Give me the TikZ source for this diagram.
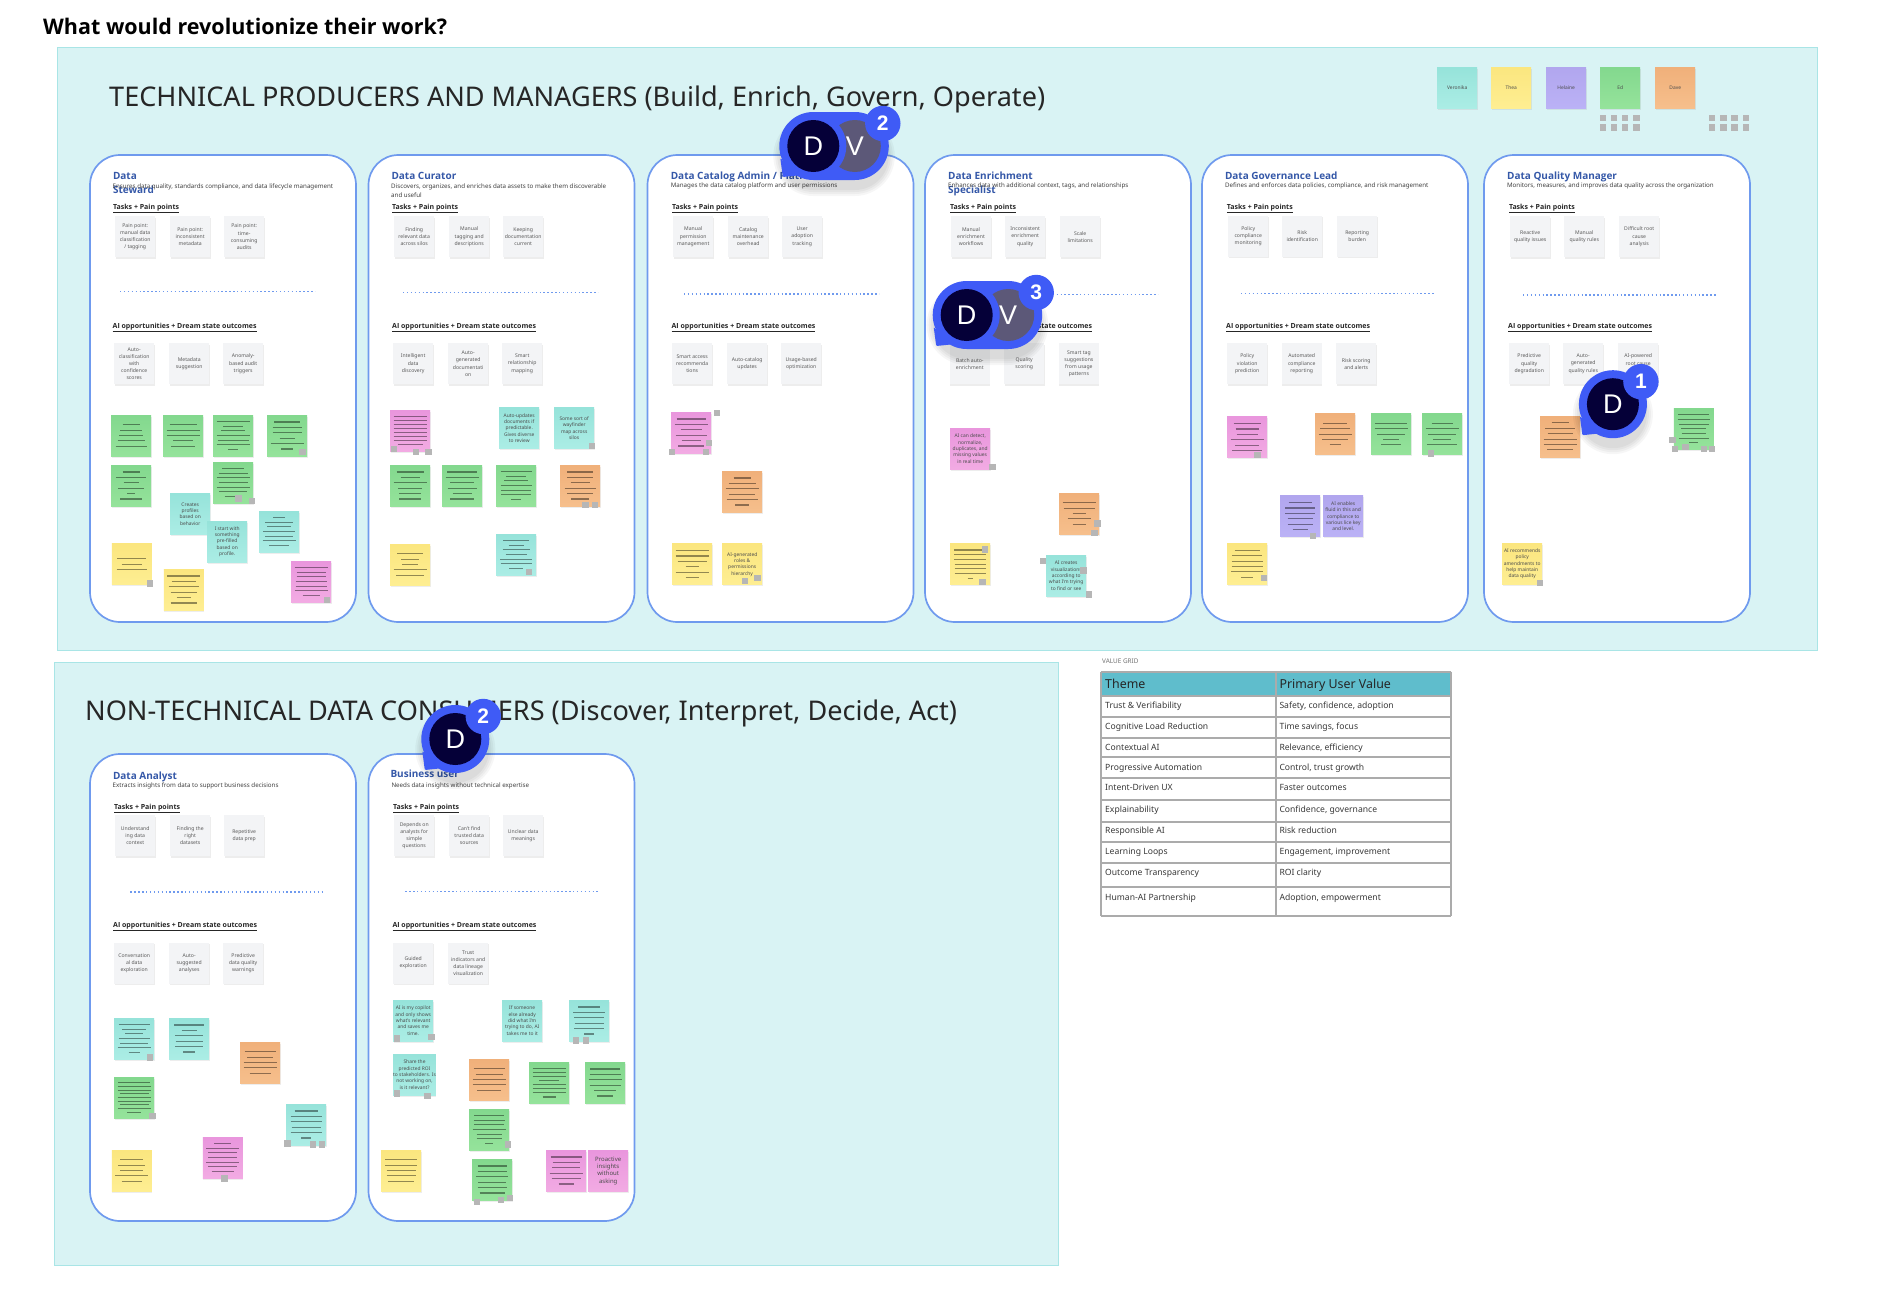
\documentclass[tikz,border=0pt]{standalone}
\usepackage{fontspec}
\setmainfont{Noto Sans}
\newfontfamily\heavyfont{Open Sans}
\newfontfamily\badgefont{Liberation Sans}
\usetikzlibrary{shadows}
\definecolor{blatt}{HTML}{D9F3F4}
\definecolor{blattr}{HTML}{A9E5E6}
\definecolor{rahmen}{HTML}{6F9AEE}
\definecolor{rolle}{HTML}{3558A8}
\definecolor{karte}{HTML}{F3F4F6}
\definecolor{griff}{HTML}{B6B6B6}
\definecolor{blau}{HTML}{3F5BF6}
\definecolor{nacht}{HTML}{050038}
\definecolor{schiefer}{HTML}{5C5878}
\definecolor{kopf}{HTML}{5FBDCC}
\definecolor{gitter}{HTML}{ABABAB}
\newcommand{\fs}[1]{\fontsize{#1}{#1}\selectfont}
\tikzset{
  frame/.style={fill=blatt,draw=blattr,line width=1pt},
  panel/.style={fill=white,draw=rahmen,line width=1.7pt,rounded corners=30pt},
  txt/.style={anchor=base west,inner sep=0pt},
  bigtitle/.style={txt,font=\fs{27.1},text=black!85},
  roletitle/.style={txt,align=left,font=\heavyfont\bfseries\fontsize{10}{14}\selectfont,text=rolle},
  roledesc/.style={txt,align=left,font=\fontsize{6.2}{9.5}\selectfont,text=black!75},
  rowhead/.style={txt,font=\heavyfont\bfseries\fs{7},text=black!85},
  dots/.style={rahmen,line width=1.4pt,dash pattern=on 1.4pt off 2.5pt},
  card/.style={anchor=north west,minimum width=40pt,minimum height=41pt,inner sep=0pt,align=center,
    fill=karte,text=black!65,font=\fontsize{5.1}{7.1}\selectfont,
    drop shadow={shadow xshift=.5pt,shadow yshift=-1.4pt,opacity=.14}},
  sticky/.style={anchor=north west,minimum width=40pt,minimum height=41pt,inner sep=0pt,align=center,
    text=black!70,font=\fontsize{4.9}{6.3}\selectfont,
    drop shadow={shadow xshift=.5pt,shadow yshift=-1.4pt,opacity=.14}},
  inkline/.style={black,opacity=.42,line width=1.1pt},
  grip/.style={griff},
  notegreen/.style={top color={rgb,255:red,131;green,216;blue,142},bottom color={rgb,255:red,149;green,227;blue,155}},
  noteteal/.style={top color={rgb,255:red,150;green,227;blue,218},bottom color={rgb,255:red,171;green,237;blue,229}},
  noteyellow/.style={top color={rgb,255:red,251;green,230;blue,127},bottom color={rgb,255:red,254;green,238;blue,146}},
  notepurple/.style={top color={rgb,255:red,177;green,166;blue,238},bottom color={rgb,255:red,187;green,178;blue,246}},
  noteorange/.style={top color={rgb,255:red,240;green,176;blue,122},bottom color={rgb,255:red,246;green,191;blue,140}},
  notepink/.style={top color={rgb,255:red,233;green,150;blue,221},bottom color={rgb,255:red,242;green,171;blue,227}},
  gridline/.style={gitter,line width=1.8pt},
  cellt/.style={txt,font=\fs{8.6},text=black!78},
  headt/.style={txt,font=\fs{12.4},text=black!85},
}
% sticky with hidden text: name, x, y, colour, line widths
\newcommand{\notel}[5]{
  \node[sticky,note#4] (#1) at (#2,#3) {};
  \foreach \w [count=\n] in {#5} {\xdef\nlines{\n}}
  \pgfmathsetmacro{\stp}{\nlines>6 ? 33/\nlines : 5.4}
  \foreach \w [count=\n] in {#5} {
    \pgfmathsetmacro{\yy}{#3+20.5+(\n-(\nlines+1)/2)*\stp}
    \draw[inkline] ({#2+20-\w/2},\yy) -- ({#2+20+\w/2},\yy);
  }
}
% sticky with readable text
\newcommand{\notet}[5]{\node[sticky,note#4] (#1) at (#2,#3) {#5};}
\newcommand{\card}[4]{\node[card] (#1) at (#2,#3) {#4};}
% comment bubble: name, x, y, second avatar, count
\newcommand{\bubble}[5]{
  \begin{scope}[shift={(#2,#3)}]
    \ifx\relax#4\relax\def\xv{0}\else\def\xv{41.5}\fi
    \foreach \r in {40,38,36,34} {
      \fill[black,opacity=.035] (0,10) circle (\r pt) (\xv,10) circle (\r pt) (0,10-\r) rectangle (\xv,10+\r);
    }
    \fill[blau] (0,0) circle (34pt) (\xv,0) circle (34pt) (0,-34) rectangle (\xv,34);
    \fill[blau,rounded corners=1pt] (-33,12) -- (-30.5,31) -- (-16,29.5) -- cycle;
    \ifx\relax#4\relax\else
      \fill[schiefer] (\xv,0) circle (26pt);
      \node[inner sep=0pt,text=white,font=\badgefont\fs{27}] (#1v) at (\xv,0) {#4};
    \fi
    \fill[blau] (0,0) circle (33pt);
    \fill[nacht] (0,0) circle (26pt);
    \node[inner sep=0pt,text=white,font=\badgefont\fs{27}] (#1d) at (0,0) {D};
    \fill[blau] (\xv+28,-22.5) circle (17.7pt);
    \node[inner sep=0pt,text=white,font=\badgefont\bfseries\fs{21}] (#1n) at (\xv+28,-22.5) {#5};
  \end{scope}
}
\begin{document}
\begin{tikzpicture}[x=1pt,y=-1pt]
  \useasboundingbox (0,0) rectangle (1878,1298);
  \fill[white] (0,0) rectangle (1878,1298);
  \node[txt,font=\heavyfont\bfseries\fs{21.5},text=black] (asktitle) at (43,34.5) {What would revolutionize their work?};
  % the two teal boards
  \draw[frame] (57.5,48) rectangle (1817,650);
  \draw[frame] (54,662) rectangle (1058,1265);
  \node[bigtitle] (techtitle) at (109,106.5) {TECHNICAL PRODUCERS AND MANAGERS (Build, Enrich, Govern, Operate)};
  \node[bigtitle] (nontitle) at (85,720) {NON-TECHNICAL DATA CONSUMERS (Discover, Interpret, Decide, Act)};
  \foreach \px/\py in {90/155,368.5/155,647.5/155,925/155,1202/155,1484/155,90/754,368.5/754} {
    \draw[panel] (\px,\py) rectangle +(266,467);
  }
  % legend
  \notet{lgveronika}{1437}{67}{teal}{Veronika}
  \notet{lgthea}{1491}{67}{yellow}{Thea}
  \notet{lghelaine}{1546}{67}{purple}{Helaine}
  \notet{lged}{1600}{67}{green}{Ed}
  \notet{lgdave}{1655}{67}{orange}{Dave}
  % row headings, the same in every panel
  \foreach \tx/\ty/\ax/\ay/\dxa/\dxb/\dy in {
    113/209.5/112.5/328/120/315/291.7,
    392/209.5/392/328/403/598/292.3,
    672/209.5/671.4/328/684/879/293.9,
    950/209.5/948/328/963/1158/294.6,
    1226.7/209.5/1226/328/1241/1435/293.6,
    1508.8/209.5/1508/328/1523/1717/294.8,
    114/809/113/927.3/130.4/325/892,
    393/809/392.3/927.3/405.3/600/891.7} {
    \node[rowhead] at (\tx,\ty) {\underline{Tasks + Pain points}};
    \node[rowhead] at (\ax,\ay) {\underline{AI opportunities + Dream state outcomes}};
    \draw[dots] (\dxa,\dy) -- (\dxb,\dy);
  }
  % Data Steward
  \node[roletitle] (stewardname) at (112.8,193.5) {Data\\Steward};
  \node[roledesc] (stewarddesc) at (112.5,188.3) {Ensures data quality, standards compliance, and data lifecycle management};
  \card{st1}{115}{216}{Pain point:\\manual data\\classification\\/ tagging}
  \card{st2}{170}{216}{Pain point:\\inconsistent\\metadata}
  \card{st3}{224}{216}{Pain point:\\time-\\consuming\\audits}
  \card{sa1}{114}{343}{Auto-\\classification\\with\\confidence\\scores}
  \card{sa2}{169}{343}{Metadata\\suggestion}
  \card{sa3}{223}{343}{Anomaly-\\based audit\\triggers}
  \notel{sn1}{111}{415}{green}{17,22,24,27,31}
  \notel{sn2}{163}{415}{green}{27,33,33,20,24}
  \notel{sn3}{213}{415}{green}{33,20,24,33,31,33,10}
  \notel{sn4}{267}{415}{green}{26,29,29,15,33,12}
  \notel{sn5}{111}{465}{green}{17,30,15,26,8,22}
  \notel{sn6}{213}{462}{green}{22,29,33,29,33,28,17}
  \notet{sn7}{170}{493.3}{teal}{Creates\\profiles\\based on\\behavior}
  \notet{sn8}{207}{521}{teal}{I start with\\something\\pre-filled\\based on\\profile.}
  \notel{sn9}{259}{511}{teal}{12,28,24,32,28,33,20}
  \notel{sn10}{111.7}{543.7}{yellow}{29,20,30}
  \notel{sn11}{163.7}{569}{yellow}{33,24,30,26,14,26}
  \notel{sn12}{291}{561}{pink}{33,29,29,31,31,33,17}
  % Data Curator
  \node[roletitle] (curatorname) at (391.3,179.5) {Data Curator};
  \node[roledesc] (curatordesc) at (391,197.8) {Discovers, organizes, and enriches data assets to make them discoverable\\and useful};
  \card{ct1}{394}{216}{Finding\\relevant data\\across silos}
  \card{ct2}{449}{216}{Manual\\tagging and\\descriptions}
  \card{ct3}{503}{216}{Keeping\\documentation\\current}
  \card{ca1}{393}{343}{Intelligent\\data\\discovery}
  \card{ca2}{448}{343}{Auto-\\generated\\documentati\\on}
  \card{ca3}{502}{343}{Smart\\relationship\\mapping}
  \notel{cn1}{390}{410}{pink}{33,33,33,33,33,33,33,25}
  \notet{cn2}{499}{407.3}{teal}{Auto-updates\\documents if\\predictable.\\Gives diverse\\to review}
  \notet{cn3}{554}{407.3}{teal}{Some sort of\\wayfinder\\map across\\silos}
  \notel{cn4}{390}{465}{green}{27,19,33,24,22,22}
  \notel{cn5}{442}{465}{green}{30,33,24,29,19,24}
  \notel{cn6}{496}{465}{green}{31,20,24,31,30,30,10}
  \notel{cn7}{560}{465}{orange}{26,26,19,31,26,18}
  \notel{cn8}{390}{544}{yellow}{26,18,16,33,28}
  \notel{cn9}{496}{534}{teal}{26,15,27,21,32,31,14}
  % Data Catalog Admin
  \node[roletitle] (catalogname) at (670.6,179.3) {Data Catalog Admin / Platform};
  \node[roledesc] (catalogdesc) at (670.6,187.9) {Manages the data catalog platform and user permissions};
  \card{at1}{673}{216}{Manual\\permission\\management}
  \card{at2}{728}{216}{Catalog\\maintenance\\overhead}
  \card{at3}{782}{216}{User\\adoption\\tracking}
  \card{aa1}{672}{343}{Smart access\\recommenda\\tions}
  \card{aa2}{727}{343}{Auto-catalog\\updates}
  \card{aa3}{781}{343}{Usage-based\\optimization}
  \notel{an1}{671}{412}{pink}{29,33,21,31,19,26}
  \notel{an2}{722}{471}{orange}{17,27,33,26,31,14}
  \notel{an3}{672}{543.6}{yellow}{33,33,29,13,33,13}
  \notet{an4}{722}{543.6}{yellow}{AI-generated\\roles \&\\permissions\\hierarchy}
  % Data Enrichment Specialist
  \node[roletitle] (enrichname) at (948,193.3) {Data Enrichment\\Specialist};
  \node[roledesc] (enrichdesc) at (948,187.9) {Enhances data with additional context, tags, and relationships};
  \card{et1}{950.8}{216}{Manual\\enrichment\\workflows}
  \card{et2}{1005}{216}{Inconsistent\\enrichment\\quality}
  \card{et3}{1060}{216}{Scale\\limitations}
  \card{ea1}{949.6}{343}{Batch auto-\\enrichment}
  \card{ea2}{1004}{343}{Quality\\scoring}
  \card{ea3}{1058.7}{343}{Smart tag\\suggestions\\from usage\\patterns}
  \notet{en1}{950}{428}{pink}{AI can detect,\\normalize,\\duplicates, and\\missing values\\in real time}
  \notel{en2}{1059}{493}{orange}{33,31,13,23,13}
  \notel{en3}{950}{543.6}{yellow}{32,32,32,31,31,31,5}
  \notet{en4}{1046}{555}{teal}{AI creates\\visualizations\\according to\\what I'm trying\\to find or see}
  % Data Governance Lead
  \node[roletitle] (govname) at (1224.8,179.5) {Data Governance Lead};
  \node[roledesc] (govdesc) at (1224.8,187.9) {Defines and enforces data policies, compliance, and risk management};
  \card{gt1}{1228}{215.8}{Policy\\compliance\\monitoring}
  \card{gt2}{1282}{215.8}{Risk\\identification}
  \card{gt3}{1337}{215.8}{Reporting\\burden}
  \card{ga1}{1227}{343}{Policy\\violation\\prediction}
  \card{ga2}{1281.5}{343}{Automated\\compliance\\reporting}
  \card{ga3}{1336}{343}{Risk scoring\\and alerts}
  \notel{gn1}{1227}{416.6}{pink}{27,23,21,33,24,30}
  \notel{gn2}{1315}{413.6}{orange}{24,30,33,26,11}
  \notel{gn3}{1371}{413.6}{green}{32,33,28,16,20}
  \notel{gn4}{1422}{413.6}{green}{21,33,28,18,30}
  \notel{gn5}{1280}{495.6}{purple}{23,30,30,25,25,15}
  \notet{gn6}{1323}{495.6}{purple}{AI enables\\fluid in this and\\compliance to\\various lice key\\and level.}
  \notel{gn7}{1227}{543.3}{yellow}{25,30,31,31,32,12}
  % Data Quality Manager
  \node[roletitle] (qualname) at (1506.9,179.5) {Data Quality Manager};
  \node[roledesc] (qualdesc) at (1506.9,187.9) {Monitors, measures, and improves data quality across the organization};
  \card{qt1}{1510}{216}{Reactive\\quality issues}
  \card{qt2}{1564}{216}{Manual\\quality rules}
  \card{qt3}{1619}{216}{Difficult root\\cause\\analysis}
  \card{qa1}{1509}{343}{Predictive\\quality\\degradation}
  \card{qa2}{1563}{343}{Auto-\\generated\\quality rules}
  \card{qa3}{1618}{343}{AI-powered\\root cause\\analysis}
  \notel{qn1}{1540}{415.9}{orange}{17,30,25,33,33,26}
  \notel{qn2}{1673.7}{408.3}{green}{31,32,30,25,24,30,9}
  \notet{qn3}{1502}{543.3}{yellow}{AI recommends\\policy\\amendments to\\help maintain\\data quality}
  % Data Analyst
  \node[roletitle] (analystname) at (112.8,779.2) {Data Analyst};
  \node[roledesc] (analystdesc) at (112.5,787.2) {Extracts insights from data to support business decisions};
  \card{dt1}{115}{815}{Understand\\ing data\\context}
  \card{dt2}{170}{815}{Finding the\\right\\datasets}
  \card{dt3}{224}{815}{Repetitive\\data prep}
  \card{da1}{114}{942.3}{Conversation\\al data\\exploration}
  \card{da2}{169}{942.3}{Auto-\\suggested\\analyses}
  \card{da3}{223}{942.3}{Predictive\\data quality\\warnings}
  \notel{dn1}{114}{1018}{teal}{31,24,18,31,28,33,11}
  \notel{dn2}{169}{1018}{teal}{30,15,28,27,28,12}
  \notel{dn3}{240}{1042}{orange}{31,26,33,33,21}
  \notel{dn4}{114}{1077}{green}{32,33,33,29,33,33,29,33,14}
  \notel{dn5}{286}{1104}{teal}{23,31,31,29,31,10}
  \notel{dn6}{202.7}{1137}{pink}{17,33,29,29,33,29,22}
  \notel{dn7}{111.7}{1150}{yellow}{23,27,23,33,20}
  % Business user
  \node[roletitle] (bizname) at (390.3,777.5) {Business user};
  \node[roledesc] (bizdesc) at (391.3,787.2) {Needs data insights without technical expertise};
  \card{bt1}{394}{815}{Depends on\\analysts for\\simple\\questions}
  \card{bt2}{449}{815}{Can't find\\trusted data\\sources}
  \card{bt3}{503}{815}{Unclear data\\meanings}
  \card{ba1}{393}{942.3}{Guided\\exploration}
  \card{ba2}{448}{942.3}{Trust\\indicators and\\data lineage\\visualization}
  \notet{bn1}{393}{1000}{teal}{AI is my copilot\\and only shows\\what's relevant\\and saves me\\time.}
  \notet{bn2}{502}{1000}{teal}{If someone\\else already\\did what I'm\\trying to do, AI\\takes me to it}
  \notel{bn3}{569}{1000}{teal}{22,32,30,29,30,10}
  \notet{bn4}{393}{1054}{teal}{Share the\\predicted ROI\\to stakeholders. Is\\not working on,\\is it relevant?}
  \notel{bn5}{469}{1059}{orange}{31,27,33,33,24}
  \notel{bn6}{529}{1062}{green}{33,33,33,20,33,33,33,13}
  \notel{bn7}{585}{1062}{green}{30,31,33,31,22,16}
  \notel{bn8}{469}{1109}{green}{30,31,30,33,25,25,8}
  \notel{bn9}{381}{1150}{yellow}{32,32,29,29,26}
  \notel{bn10}{472}{1159}{green}{29,29,32,28,29,25}
  \notel{bn11}{546}{1150}{pink}{31,27,28,33,29,15}
  \node[sticky,notepink,font=\fontsize{6}{7.2}\selectfont] (bn12) at (588,1150) {Proactive\\insights\\without\\asking};
  % small grey handles
  \foreach \gx/\gy in {302.3/452,238.3/498.3,251.7/501,150/583.3,327/600,
    394/448.7,416/452,428.5/452,592/445.7,585.5/504.7,595/504.7,529/572,
    717/413,709/443,672/452,706/452,745/580.8,757.5/577.7,
    992.5/467,1097.3/523.6,1094.6/533,985/549.4,982.5/582,1043/561,1083.6/570.5,1089/594.6,
    1257.4/455,1430.7/453.5,1312.8/536,1264/578,
    1672.6/440,1675/449,1685.6/446.7,1704/449,1712/449,1540/583,
    150/1057.3,152.6/1115.7,287.3/1143.3,313/1144.3,322/1144.3,224.6/1178.3,
    397/1038.3,431.3/1037,575.7/1040.3,586/1040.3,397/1093.3,427.3/1096,507.7/1144.3,
    477/1201.7,501/1199.7,510/1198,
    1602.7/118,1614/118,1625/118,1636.3/118,1602.7/127.3,1614/127.3,1625/127.3,1636.3/127.3,
    1712/118,1723.3/118,1734.3/118,1745.7/118,1712/127.3,1723.3/127.3,1734.3/127.3,1745.7/127.3} {
    \fill[grip] (\gx-3.2,\gy-3.2) rectangle +(6.4,6.4);
  }
  % value grid
  \node[txt,font=\fs{6.4},text=black!55] (gridname) at (1102,663.3) {VALUE GRID};
  \fill[kopf] (1101.3,671.7) rectangle (1450.7,695.7);
  \foreach \ly in {671.7,695.7,716.7,737.7,757.3,777.7,800,821.7,842.3,863.3,887.3,915.7} {
    \draw[gridline] (1101.3,\ly) -- (1450.7,\ly);
  }
  \foreach \lx in {1101.3,1276,1450.7} {
    \draw[gridline] (\lx,671.7) -- (\lx,915.7);
  }
  \node[headt] (hdtheme) at (1105,688.8) {Theme};
  \node[headt] (hdvalue) at (1279.3,688.8) {Primary User Value};
  \foreach \cy/\ca/\cb [count=\i] in {
    708.3/Trust \& Verifiability/{Safety, confidence, adoption},
    729.3/Cognitive Load Reduction/{Time savings, focus},
    750.3/Contextual AI/{Relevance, efficiency},
    770.3/Progressive Automation/{Control, trust growth},
    790.6/Intent-Driven UX/{Faster outcomes},
    812.6/Explainability/{Confidence, governance},
    833.9/Responsible AI/{Risk reduction},
    854.9/Learning Loops/{Engagement, improvement},
    875.6/Outcome Transparency/{ROI clarity},
    900.3/Human-AI Partnership/{Adoption, empowerment}} {
    \node[cellt] (theme\i) at (1105,\cy) {\ca};
    \node[cellt] (value\i) at (1279.3,\cy) {\cb};
  }
  % comment bubbles on top
  \bubble{mark2}{813.3}{146}{V}{2}
  \bubble{mark3}{966.7}{315}{V}{3}
  \bubble{mark1}{1612.9}{404.2}{}{1}
  \bubble{mark4}{455.3}{739}{}{2}
\end{tikzpicture}
\end{document}
